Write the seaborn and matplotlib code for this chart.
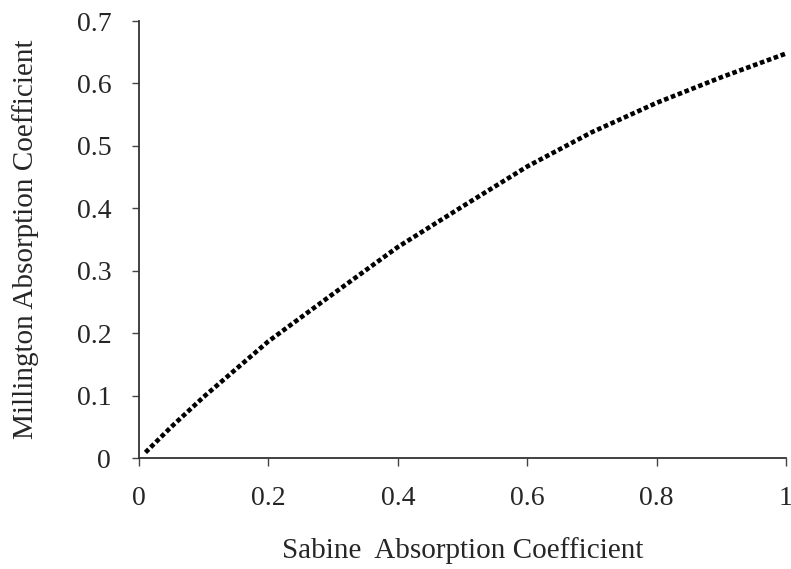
import matplotlib
matplotlib.use("Agg")
import matplotlib.pyplot as plt
import seaborn as sns
import pandas as pd

sabine = [0.01, 0.05, 0.10, 0.20, 0.30, 0.40, 0.50, 0.60, 0.70, 0.80, 0.90, 1.00]
millington = [0.009, 0.050, 0.098, 0.187, 0.263, 0.338, 0.403, 0.467, 0.522, 0.569, 0.610, 0.648]
x_ticks = [0, 0.2, 0.4, 0.6, 0.8, 1]
x_ticklabels = ["0", "0.2", "0.4", "0.6", "0.8", "1"]
y_ticks = [0, 0.1, 0.2, 0.3, 0.4, 0.5, 0.6, 0.7]
y_ticklabels = ["0", "0.1", "0.2", "0.3", "0.4", "0.5", "0.6", "0.7"]

sns.set_style("white")
plt.rcParams['font.family'] = ['Liberation Serif', 'DejaVu Serif']

df = pd.DataFrame({"Sabine": sabine, "Millington": millington})

fig = plt.figure(figsize=(7.91, 5.69), dpi=100)
ax = fig.add_axes([0.1757, 0.195, 0.8180, 0.768])

sns.lineplot(data=df, x="Sabine", y="Millington", ax=ax, color="black",
             linewidth=3.3, linestyle=(0, (1.0, 0.6)), dash_capstyle="butt")

ax.set_xlim(0, 1)
ax.set_ylim(0, 0.7)
ax.set_xticks(x_ticks)
ax.set_xticklabels(x_ticklabels)
ax.set_yticks(y_ticks)
ax.set_yticklabels(y_ticklabels)
ax.tick_params(axis="x", bottom=True, direction="out", length=6, width=1, pad=14,
               labelsize=20, color="#444444")
ax.tick_params(axis="y", left=True, direction="out", length=5, width=1, pad=15,
               labelsize=20, color="#444444")
for s in ["top", "right"]:
    ax.spines[s].set_visible(False)
for s in ["left", "bottom"]:
    ax.spines[s].set_color("#333333")
    ax.spines[s].set_linewidth(1.3)

ax.set_xlabel("Sabine  Absorption Coefficient", fontsize=21, labelpad=19)
ax.set_ylabel("Millington Absorption Coefficient", fontsize=21, labelpad=27)

fig.savefig("out.png", dpi=100)
